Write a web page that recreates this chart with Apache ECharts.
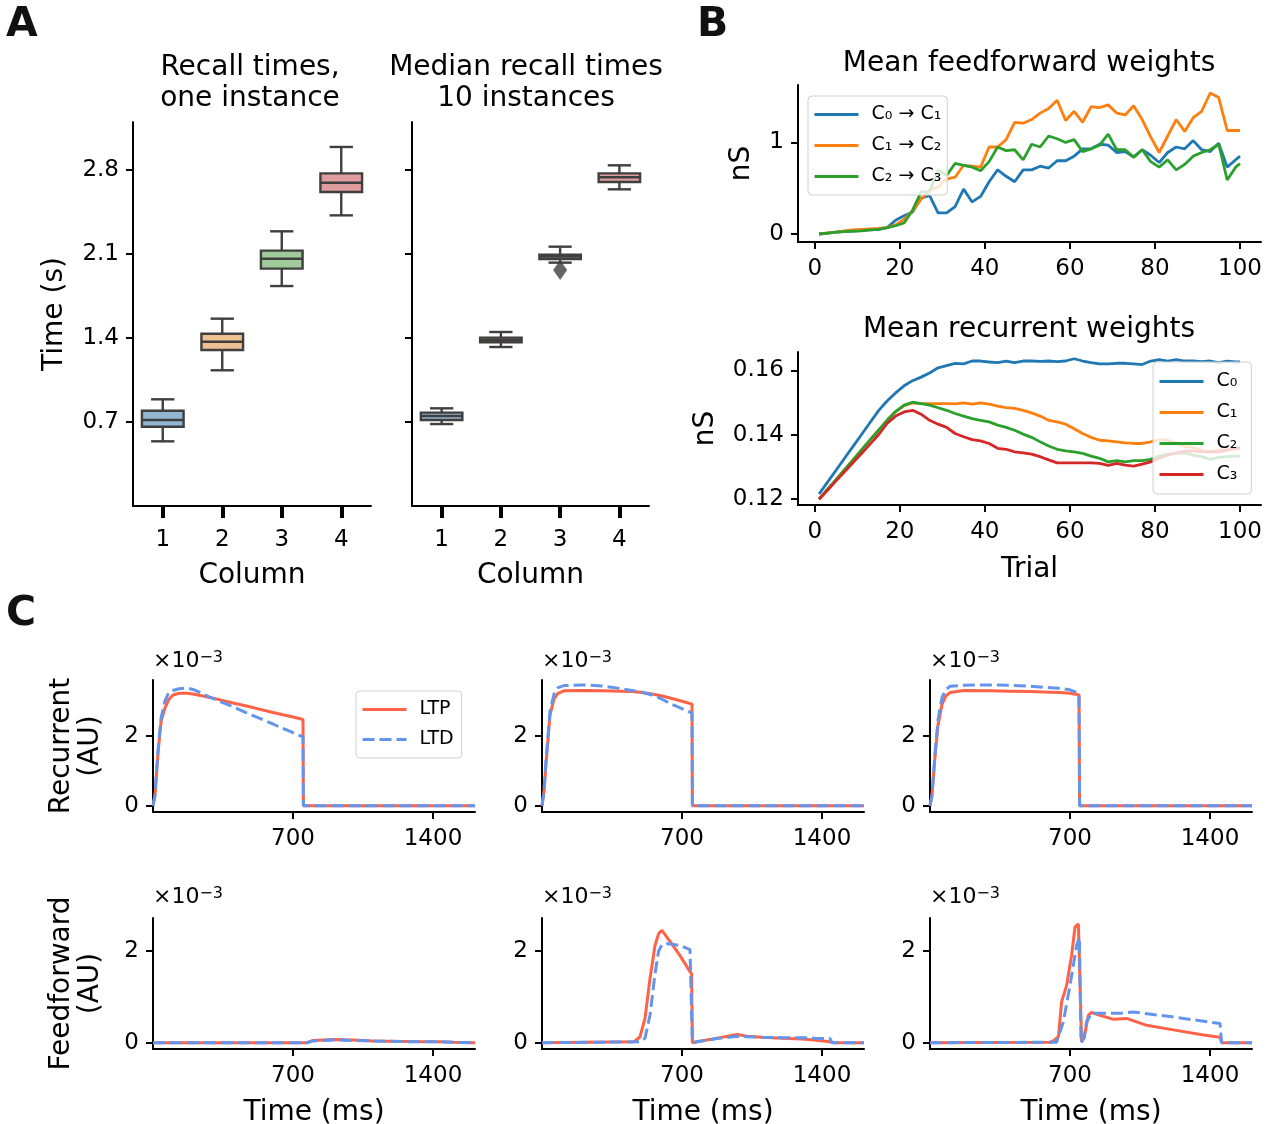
<!DOCTYPE html>
<html>
<head>
<meta charset="utf-8">
<script src="https://cdn.jsdelivr.net/npm/echarts@6/dist/echarts.min.js"></script>
<style>
  html, body { margin: 0; padding: 0; background: #fff; }
  #chart { width: 1267px; height: 1124px; }
</style>
</head>
<body>
<div id="chart"></div>
<script>
// ---- Panel A: recall times (box stats: low whisker, Q1, median, Q3, high whisker)
const columns = ["1", "2", "3", "4"];
const oneLow = [0.539, 1.131, 1.833, 2.422];
const oneQ1 = [0.661, 1.300, 1.978, 2.617];
const oneMed = [0.717, 1.369, 2.061, 2.694];
const oneQ3 = [0.794, 1.436, 2.128, 2.772];
const oneHigh = [0.889, 1.561, 2.289, 2.992];

const medLow = [0.683, 1.325, 2.028, 2.639];
const medQ1 = [0.717, 1.364, 2.058, 2.700];
const medMed = [0.750, 1.386, 2.078, 2.739];
const medQ3 = [0.778, 1.403, 2.094, 2.772];
const medHigh = [0.814, 1.450, 2.161, 2.839];
const medOutliers = [[2, 1.967]];

const timeTicks = [0.7, 1.4, 2.1, 2.8];
const boxColors = ["#93b6d3", "#f0c190", "#9ecb99", "#df9d9f"];

// ---- Panel B: weights over trials
const trials = [1, 3, 5, 7, 9, 11, 13, 15, 17, 19, 21, 23, 25, 27, 29, 31, 33, 35, 37, 39,
  41, 43, 45, 47, 49, 51, 53, 55, 57, 59, 61, 63, 65, 67, 69, 71, 73, 75, 77, 79,
  81, 83, 85, 87, 89, 91, 93, 95, 97, 99, 100];

const ffC0C1 = [0, 0.01, 0.02, 0.03, 0.035, 0.04, 0.045, 0.05, 0.07, 0.15,
  0.2, 0.24, 0.39, 0.42, 0.23, 0.23, 0.3, 0.49, 0.35, 0.41,
  0.57, 0.70, 0.63, 0.57, 0.70, 0.70, 0.74, 0.72, 0.80, 0.80,
  0.85, 0.93, 0.93, 0.98, 0.97, 0.89, 0.90, 0.84, 0.92, 0.86,
  0.78, 0.89, 0.95, 0.93, 1.02, 0.92, 0.90, 0.99, 0.73, 0.81, 0.85];
const ffC1C2 = [0, 0.01, 0.02, 0.035, 0.045, 0.05, 0.055, 0.06, 0.07, 0.1,
  0.16, 0.25, 0.38, 0.48, 0.51, 0.6, 0.62, 0.75, 0.74, 0.73,
  0.95, 0.95, 1.03, 1.22, 1.21, 1.25, 1.32, 1.37, 1.46, 1.24,
  1.34, 1.22, 1.39, 1.38, 1.41, 1.32, 1.30, 1.40, 1.25, 1.06,
  0.89, 1.07, 1.25, 1.12, 1.27, 1.34, 1.54, 1.49, 1.13, 1.13, 1.13];
const ffC2C3 = [0, 0.01, 0.02, 0.025, 0.03, 0.035, 0.045, 0.05, 0.07, 0.09,
  0.12, 0.26, 0.46, 0.46, 0.70, 0.64, 0.77, 0.75, 0.73, 0.69,
  0.79, 0.95, 0.91, 0.92, 0.81, 0.98, 0.95, 1.07, 1.04, 1.0,
  1.03, 0.90, 0.93, 0.97, 1.09, 0.92, 0.92, 0.84, 0.92, 0.79,
  0.73, 0.81, 0.70, 0.76, 0.85, 0.89, 0.92, 0.98, 0.59, 0.73, 0.77];

const recC0 = [0.1216, 0.1253, 0.1290, 0.1327, 0.1364, 0.1401, 0.1438, 0.1475, 0.1505, 0.1530,
  0.1552, 0.1568, 0.1579, 0.1592, 0.1608, 0.1615, 0.1622, 0.1620, 0.1629, 0.1629,
  0.1626, 0.1624, 0.1629, 0.1624, 0.1629, 0.1629, 0.1628, 0.1629, 0.1627, 0.1629,
  0.1636, 0.1629, 0.1624, 0.1620, 0.1620, 0.1622, 0.1622, 0.1620, 0.1618, 0.1629,
  0.1633, 0.1629, 0.1633, 0.1629, 0.1629, 0.1627, 0.1629, 0.1624, 0.1629, 0.1626, 0.1626];
const recC1 = [0.1200, 0.1231, 0.1261, 0.1292, 0.1322, 0.1353, 0.1384, 0.1414, 0.1445, 0.1472,
  0.1490, 0.1499, 0.1497, 0.1497, 0.1497, 0.1497, 0.1496, 0.1499, 0.1495, 0.1499,
  0.1495, 0.1489, 0.1484, 0.1482, 0.1476, 0.1468, 0.1458, 0.1445, 0.1440, 0.1433,
  0.1419, 0.1404, 0.1392, 0.1383, 0.1381, 0.1378, 0.1375, 0.1373, 0.1373, 0.1378,
  0.1385, 0.1383, 0.1375, 0.1363, 0.1361, 0.1352, 0.1347, 0.1352, 0.1354, 0.1358, 0.1358];
const recC2 = [0.1200, 0.1231, 0.1261, 0.1292, 0.1322, 0.1353, 0.1384, 0.1414, 0.1445, 0.1472,
  0.1492, 0.1501, 0.1497, 0.1492, 0.1484, 0.1476, 0.1466, 0.1458, 0.1450, 0.1445,
  0.1440, 0.1430, 0.1423, 0.1414, 0.1402, 0.1392, 0.1378, 0.1365, 0.1355, 0.1350,
  0.1347, 0.1342, 0.1334, 0.1327, 0.1316, 0.1320, 0.1316, 0.1320, 0.1320, 0.1324,
  0.1334, 0.1340, 0.1342, 0.1344, 0.1337, 0.1332, 0.1324, 0.1330, 0.1332, 0.1334, 0.1334];
const recC3 = [0.1200, 0.1228, 0.1257, 0.1285, 0.1314, 0.1342, 0.1371, 0.1400, 0.1435, 0.1458,
  0.1471, 0.1476, 0.1464, 0.1445, 0.1433, 0.1423, 0.1404, 0.1394, 0.1385, 0.1381,
  0.1373, 0.1358, 0.1355, 0.1347, 0.1344, 0.1340, 0.1332, 0.1322, 0.1313, 0.1313,
  0.1313, 0.1313, 0.1313, 0.1311, 0.1305, 0.1311, 0.1306, 0.1303, 0.1309, 0.1316,
  0.1327, 0.1337, 0.1344, 0.1349, 0.1350, 0.1347, 0.1347, 0.1347, 0.1352, 0.1358, 0.1358];

const trialTicks = [0, 20, 40, 60, 80, 100];

// ---- Panel C: plasticity traces, [time ms, value x1e-3]
const recLtp1 = [[0, 0], [10, 0.3], [25, 1.5], [40, 2.4], [60, 2.8], [80, 3.05], [100, 3.17], [130, 3.22], [170, 3.22],
  [200, 3.2], [250, 3.14], [300, 3.08], [400, 2.94], [500, 2.81], [600, 2.67], [700, 2.54], [750, 2.47], [752, 0], [1610, 0]];
const recLtd1 = [[0, 0], [10, 0.3], [25, 1.6], [40, 2.5], [60, 3.0], [80, 3.25], [100, 3.3], [130, 3.35], [170, 3.37],
  [200, 3.33], [250, 3.2], [300, 3.07], [400, 2.83], [500, 2.58], [600, 2.34], [700, 2.09], [750, 1.97], [752, 0], [1610, 0]];
const recLtp2 = [[0, 0], [10, 0.4], [20, 1.2], [40, 2.6], [60, 3.05], [80, 3.22], [110, 3.29], [200, 3.3], [300, 3.29],
  [400, 3.28], [450, 3.27], [500, 3.24], [550, 3.2], [600, 3.14], [650, 3.07], [700, 2.99], [750, 2.91], [752, 0], [1610, 0]];
const recLtd2 = [[0, 0], [10, 0.4], [20, 1.3], [40, 2.7], [60, 3.2], [80, 3.38], [110, 3.44], [200, 3.46], [300, 3.43],
  [400, 3.35], [450, 3.3], [500, 3.25], [550, 3.17], [600, 3.05], [650, 2.9], [700, 2.78], [750, 2.65], [752, 0], [1610, 0]];
const recLtp3 = [[0, 0], [10, 0.3], [25, 1.4], [40, 2.3], [60, 2.9], [80, 3.15], [100, 3.24], [170, 3.3], [300, 3.29],
  [400, 3.28], [500, 3.27], [600, 3.25], [650, 3.24], [700, 3.22], [730, 3.19], [745, 3.17], [748, 0], [1610, 0]];
const recLtd3 = [[0, 0], [10, 0.3], [25, 1.5], [40, 2.45], [60, 3.1], [80, 3.33], [100, 3.42], [170, 3.45], [300, 3.46],
  [400, 3.45], [500, 3.42], [600, 3.38], [650, 3.36], [700, 3.32], [730, 3.25], [745, 3.2], [748, 0], [1610, 0]];

const ffLtp1 = [[0, 0], [770, 0], [800, 0.05], [850, 0.06], [900, 0.07], [1000, 0.06], [1100, 0.04], [1200, 0.03],
  [1300, 0.025], [1433, 0.02], [1500, 0.01], [1610, 0]];
const ffLtd1 = [[0, 0], [770, 0], [800, 0.04], [850, 0.05], [900, 0.06], [1000, 0.05], [1100, 0.04], [1200, 0.03],
  [1300, 0.02], [1433, 0.02], [1500, 0.01], [1610, 0]];
const ffLtp2 = [[0, 0], [460, 0.02], [490, 0.13], [515, 0.53], [540, 1.4], [565, 2.12], [583, 2.38], [600, 2.45], [625, 2.3],
  [650, 2.15], [690, 1.9], [740, 1.55], [748, 1.5], [752, 0], [775, 0.02], [875, 0.1], [975, 0.18], [1025, 0.14],
  [1100, 0.12], [1200, 0.1], [1300, 0.08], [1360, 0.06], [1440, 0.02], [1460, 0], [1610, 0]];
const ffLtd2 = [[0, 0], [490, 0.02], [515, 0.1], [540, 0.6], [565, 1.5], [583, 2.0], [600, 2.14], [625, 2.16], [650, 2.15],
  [690, 2.12], [740, 2.03], [748, 2.01], [752, 0], [775, 0.02], [875, 0.09], [975, 0.14], [1025, 0.13], [1100, 0.12],
  [1200, 0.11], [1300, 0.11], [1360, 0.1], [1440, 0.09], [1450, 0], [1610, 0]];
const ffLtp3 = [[0, 0], [600, 0.01], [617, 0.04], [642, 0.13], [658, 0.89], [683, 1.25], [708, 1.91], [725, 2.52],
  [742, 2.59], [750, 2.55], [758, 0.02], [770, 0.1], [792, 0.6], [808, 0.66], [850, 0.6], [917, 0.51], [983, 0.53],
  [1083, 0.38], [1217, 0.28], [1367, 0.17], [1450, 0.12], [1458, 0], [1610, 0]];
const ffLtd3 = [[0, 0], [633, 0.01], [667, 0.46], [700, 1.25], [733, 2.12], [747, 2.3], [755, 0], [770, 0.1], [783, 0.46],
  [808, 0.64], [950, 0.64], [1017, 0.67], [1200, 0.57], [1450, 0.42], [1458, 0], [1610, 0]];

const msTicks = [700, 1400];
const auTicks = [0, 2];

const FONT = "DejaVu Sans";
const BLACK = "#000";
const TAB = ["#1f77b4", "#ff7f0e", "#2ca02c", "#d62728"];
const LTP_COLOR = "#ff6347";
const LTD_COLOR = "#6495ed";

const chart = echarts.init(document.getElementById("chart"));

// common axis pieces
function baseAxis(grid) {
  return {
    gridIndex: grid,
    axisLine: { show: true, onZero: false, lineStyle: { color: BLACK, width: 2 } },
    splitLine: { show: false },
    nameTextStyle: { fontSize: 28, color: BLACK, fontFamily: FONT, lineHeight: 29 },
  };
}
function valAxis(grid, min, max, ticks, showLabels, extra, margin) {
  return Object.assign(baseAxis(grid), {
    type: "value", min: min, max: max,
    axisTick: { show: true, length: 7, lineStyle: { color: BLACK, width: 2 }, customValues: ticks },
    axisLabel: {
      show: showLabels, customValues: ticks, fontSize: 23, color: BLACK, margin: margin || 14, fontFamily: FONT,
      formatter: (v) => String(v),
    },
  }, extra || {});
}
function catAxis(grid) {
  return Object.assign(baseAxis(grid), {
    type: "category", data: columns,
    axisTick: { show: true, alignWithLabel: true, length: 12, lineStyle: { color: BLACK, width: 4 } },
    axisLabel: { fontSize: 23, color: BLACK, margin: 23, fontFamily: FONT },
    name: "Column", nameLocation: "middle", nameGap: 55,
  });
}

function boxData(lo, q1, med, q3, hi) {
  return columns.map((c, i) => [i, lo[i], q1[i], med[i], q3[i], hi[i]]);
}

function renderBox(params, api) {
  const x = api.value(0);
  const lo = api.coord([x, api.value(1)]);
  const q1 = api.coord([x, api.value(2)]);
  const med = api.coord([x, api.value(3)]);
  const q3 = api.coord([x, api.value(4)]);
  const hi = api.coord([x, api.value(5)]);
  const bw = api.size([1, 0])[0] * 0.7;
  const cw = bw * 0.56;
  const cx = lo[0];
  const stroke = { stroke: "#3f3f3f", lineWidth: 2.4 };
  return {
    type: "group",
    children: [
      { type: "line", shape: { x1: cx, y1: hi[1], x2: cx, y2: q3[1] }, style: stroke },
      { type: "line", shape: { x1: cx, y1: q1[1], x2: cx, y2: lo[1] }, style: stroke },
      { type: "line", shape: { x1: cx - cw / 2, y1: hi[1], x2: cx + cw / 2, y2: hi[1] }, style: stroke },
      { type: "line", shape: { x1: cx - cw / 2, y1: lo[1], x2: cx + cw / 2, y2: lo[1] }, style: stroke },
      { type: "rect", shape: { x: cx - bw / 2, y: q3[1], width: bw, height: q1[1] - q3[1] },
        style: { fill: boxColors[params.dataIndex], stroke: "#3f3f3f", lineWidth: 2.4 } },
      { type: "line", shape: { x1: cx - bw / 2, y1: med[1], x2: cx + bw / 2, y2: med[1] }, style: stroke },
    ],
  };
}

function zip(xs, ys) {
  return xs.map((x, i) => [x, ys[i]]);
}
function lineSeries(name, data, color, axis, width, dashed) {
  return {
    type: "line", name: name, data: data, xAxisIndex: axis, yAxisIndex: axis,
    showSymbol: false, symbol: "none", animation: false,
    lineStyle: { color: color, width: width, type: dashed ? [12, 5] : "solid" },
    itemStyle: { color: color },
  };
}

const titleFont = { fontSize: 28, color: BLACK, fontWeight: "normal", fontFamily: FONT, lineHeight: 31 };
const letterFont = { fontSize: 41, color: "#111", fontWeight: "bold", fontFamily: FONT };

// legend icons: line only, hide the marker that ECharts adds for line series
const legendBase = {
  orient: "vertical", selectedMode: false, itemWidth: 44, itemHeight: 14, itemGap: 12,
  itemStyle: { opacity: 0 },
  lineStyle: { width: 3 },
  backgroundColor: "rgba(255,255,255,0.8)", borderColor: "#d0d0d0", borderWidth: 1, borderRadius: 4,
  textStyle: { fontSize: 19, color: BLACK, fontFamily: FONT, padding: [0, 0, 0, 8] },
};

// keep grids exactly where they are put, even if names reach the canvas edge
const gridBase = { outerBoundsMode: "none", containLabel: false };

const cGrids = [];
[680, 918].forEach((top, r) => {
  [153, 542, 930].forEach((left) => {
    cGrids.push(Object.assign({ left: left, top: top, width: 322, height: r === 0 ? 132 : 131 }, gridBase));
  });
});

const xAxes = [
  catAxis(0),
  catAxis(1),
  valAxis(2, -3.95, 104.95, trialTicks, true, {}, 16),
  valAxis(3, -3.95, 104.95, trialTicks, true, { name: "Trial", nameLocation: "middle", nameGap: 50 }, 16),
];
const yAxes = [
  valAxis(0, 0, 3.2, timeTicks, true, { name: "Time (s)", nameLocation: "middle", nameGap: 64 }),
  valAxis(1, 0, 3.2, timeTicks, false),
  valAxis(2, -0.0875, 1.627, [0, 1], true, { name: "nS", nameLocation: "middle", nameGap: 42 }),
  valAxis(3, 0.1182, 0.1657, [0.12, 0.14, 0.16], true, { name: "nS", nameLocation: "middle", nameGap: 78 }),
];
for (let k = 0; k < 6; k++) {
  const g = 4 + k;
  const row = k < 3 ? 0 : 1;
  xAxes.push(valAxis(g, 0, 1610, msTicks, true,
    row === 1 ? { name: "Time (ms)", nameLocation: "middle", nameGap: 49 } : {}, 16));
  const extra = {};
  if (k === 0) Object.assign(extra, { name: "Recurrent\n(AU)", nameLocation: "middle", nameGap: 48 });
  if (k === 3) Object.assign(extra, { name: "Feedforward\n(AU)", nameLocation: "middle", nameGap: 48 });
  yAxes.push(row === 0 ? valAxis(g, -0.18, 3.6, auTicks, true, extra) : valAxis(g, -0.137, 2.72, auTicks, true, extra));
}

const cPanels = [
  [recLtp1, recLtd1], [recLtp2, recLtd2], [recLtp3, recLtd3],
  [ffLtp1, ffLtd1], [ffLtp2, ffLtd2], [ffLtp3, ffLtd3],
];

const series = [
  { type: "custom", xAxisIndex: 0, yAxisIndex: 0, renderItem: renderBox,
    data: boxData(oneLow, oneQ1, oneMed, oneQ3, oneHigh), encode: { x: 0, y: [1, 2, 3, 4, 5] } },
  { type: "custom", xAxisIndex: 1, yAxisIndex: 1, renderItem: renderBox,
    data: boxData(medLow, medQ1, medMed, medQ3, medHigh), encode: { x: 0, y: [1, 2, 3, 4, 5] } },
  { type: "scatter", xAxisIndex: 1, yAxisIndex: 1, data: medOutliers, symbol: "diamond",
    symbolSize: [14, 20], itemStyle: { color: "#3f3f3f" } },
  lineSeries("C₀ → C₁", zip(trials, ffC0C1), TAB[0], 2, 2.8),
  lineSeries("C₁ → C₂", zip(trials, ffC1C2), TAB[1], 2, 2.8),
  lineSeries("C₂ → C₃", zip(trials, ffC2C3), TAB[2], 2, 2.8),
  lineSeries("C₀", zip(trials, recC0), TAB[0], 3, 2.8),
  lineSeries("C₁", zip(trials, recC1), TAB[1], 3, 2.8),
  lineSeries("C₂", zip(trials, recC2), TAB[2], 3, 2.8),
  lineSeries("C₃", zip(trials, recC3), TAB[3], 3, 2.8),
];
cPanels.forEach((p, k) => {
  series.push(lineSeries("LTP", p[0], LTP_COLOR, 4 + k, 3));
  series.push(lineSeries("LTD", p[1], LTD_COLOR, 4 + k, 3, true));
});

const offsetTexts = [];
[650, 886].forEach((y) => {
  [153, 542, 930].forEach((x) => {
    offsetTexts.push({
      type: "text", x: x, y: y,
      style: {
        text: "{a|×10}{b|−3}", fill: BLACK,
        rich: { a: { fontSize: 22, fontFamily: FONT }, b: { fontSize: 16, fontFamily: FONT, verticalAlign: "top" } },
      },
    });
  });
});

chart.setOption({
  backgroundColor: "#fff",
  animation: false,
  textStyle: { fontFamily: FONT },
  title: [
    { text: "A", left: 6, top: 5, padding: 0, textStyle: letterFont },
    { text: "B", left: 697, top: 5, padding: 0, textStyle: letterFont },
    { text: "C", left: 6, top: 594, padding: 0, textStyle: letterFont },
    { text: "Recall times,\none instance", left: 250, top: 52, padding: 0, textAlign: "center", textStyle: titleFont },
    { text: "Median recall times\n10 instances", left: 526, top: 52, padding: 0, textAlign: "center", textStyle: titleFont },
    { text: "Mean feedforward weights", left: 1029, top: 48, padding: 0, textAlign: "center", textStyle: titleFont },
    { text: "Mean recurrent weights", left: 1029, top: 314, padding: 0, textAlign: "center", textStyle: titleFont },
  ],
  legend: [
    Object.assign({}, legendBase, { data: ["C₀ → C₁", "C₁ → C₂", "C₂ → C₃"], left: 808, top: 96, padding: [9, 6, 9, 5] }),
    Object.assign({}, legendBase, { data: ["C₀", "C₁", "C₂", "C₃"], left: 1153, top: 362, padding: [10, 14, 10, 5] }),
    Object.assign({}, legendBase, { data: ["LTP", "LTD"], left: 356, top: 691, padding: [9, 8, 9, 5], itemGap: 11 }),
  ],
  grid: [
    Object.assign({ left: 133, top: 122, width: 238, height: 384 }, gridBase),
    Object.assign({ left: 412, top: 122, width: 237, height: 384 }, gridBase),
    Object.assign({ left: 798, top: 85, width: 463, height: 157 }, gridBase),
    Object.assign({ left: 798, top: 352, width: 463, height: 153 }, gridBase),
  ].concat(cGrids),
  xAxis: xAxes,
  yAxis: yAxes,
  series: series,
  graphic: offsetTexts,
});
</script>
</body>
</html>
